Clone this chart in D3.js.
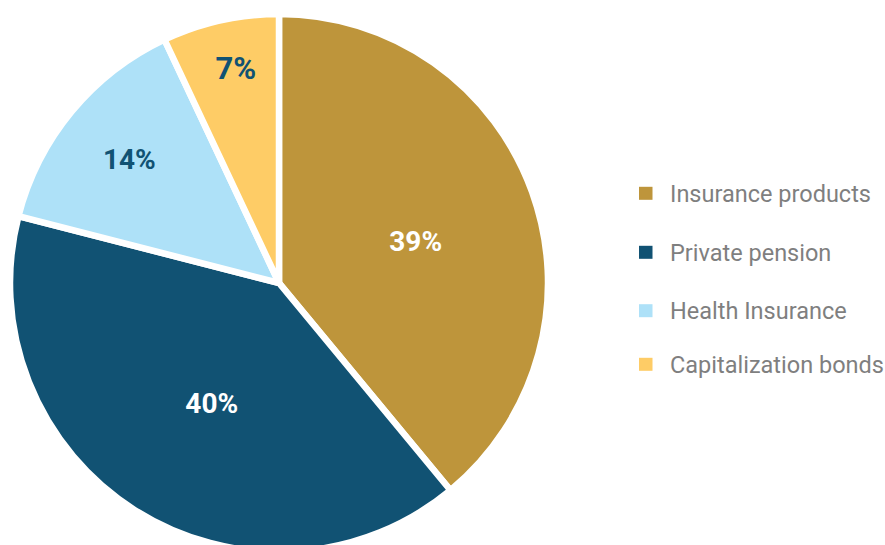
<!DOCTYPE html>
<html>
<head>
<meta charset="utf-8">
<script src="https://cdn.jsdelivr.net/npm/d3@7"></script>
<style>
  html, body { margin: 0; padding: 0; background: #fff; }
  svg { display: block; }
  .lbl { font-family: Roboto, "Liberation Sans", sans-serif; font-weight: 700; }
  .leg { font-family: Roboto, "Liberation Sans", sans-serif; font-weight: 400; }
</style>
</head>
<body>
<svg id="chart" width="885" height="545"></svg>
<script>
const categories = ["Insurance products", "Private pension", "Health Insurance", "Capitalization bonds"];
const values = [39, 40, 14, 7];
const colors = ["#BE953B", "#115273", "#AEE1F8", "#FECC66"];
const labelColors = ["#ffffff", "#ffffff", "#115273", "#115273"];

const cx = 279, cy = 283, R = 269, Rvis = 266;
const svg = d3.select("#chart");

const total = d3.sum(values);
const pie = d3.pie().sort(null).value(d => d.v);
const arcs = pie(values.map((v, i) => ({ v, i })));
const arc = d3.arc().innerRadius(0).outerRadius(R);

const g = svg.append("g").attr("transform", `translate(${cx},${cy})`);
g.selectAll("path.slice").data(arcs).join("path")
  .attr("class", "slice")
  .attr("d", arc)
  .attr("fill", d => colors[d.data.i])
  .attr("stroke", "#fff")
  .attr("stroke-width", 6.5)
  .attr("stroke-linejoin", "miter");

// labels: smaller slices are labelled further out
const lblG = svg.append("g").attr("transform", `translate(${cx + 6},${cy + 5})`);
lblG.selectAll("text.lbl").data(arcs).join("text")
  .attr("class", "lbl")
  .each(function(d) {
    const f = d.data.v / total;
    const r = Rvis * (1 - 0.898 * Math.pow(f, 0.67));
    const a = (d.startAngle + d.endAngle) / 2;
    const fs = f < 0.1 ? 31 : 28;
    d3.select(this)
      .attr("font-size", fs)
      .attr("x", r * Math.sin(a))
      .attr("y", -r * Math.cos(a) + fs * 0.711 / 2);
  })
  .attr("text-anchor", "middle")
  .attr("fill", d => labelColors[d.data.i])
  .text(d => d.data.v + "%");

// legend
const legendYs = [193.3, 252.3, 310.7, 364.3];
const items = svg.append("g").selectAll("g").data(categories).join("g")
  .attr("transform", (d, i) => `translate(639,${legendYs[i]})`);
items.append("rect")
  .attr("x", 0).attr("y", -6.5).attr("width", 13.5).attr("height", 13)
  .attr("fill", (d, i) => colors[i]);
items.append("text")
  .attr("class", "leg")
  .attr("x", 31).attr("y", 23.5 * 0.711 / 2)
  .attr("font-size", 23.5)
  .attr("fill", "#7f7f7f")
  .text(d => d);
</script>
</body>
</html>
